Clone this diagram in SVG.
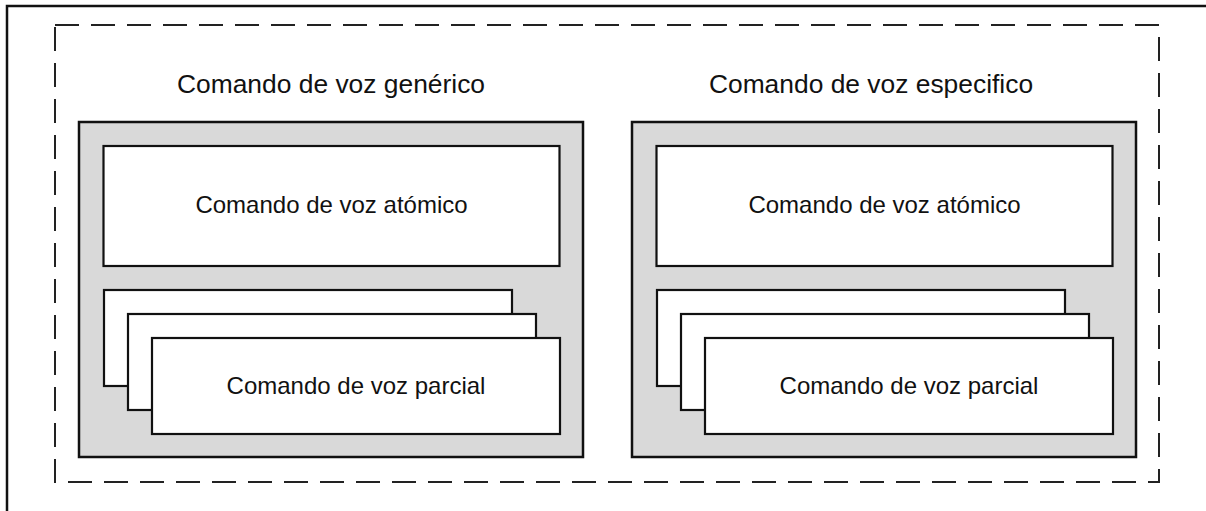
<svg xmlns="http://www.w3.org/2000/svg" width="1206" height="511" viewBox="0 0 1206 511">
<style>
.t{font-family:"Liberation Sans",Arial,sans-serif;fill:#111;text-anchor:middle}
.title{font-size:26.4px}
.lbl{font-size:24px}
.grp{fill:#d9d9d9;stroke:#111;stroke-width:2.5}
.box{fill:#fff;stroke:#111;stroke-width:2.2}
</style>
<rect width="1206" height="511" fill="#fff"/>
<rect x="7" y="6" width="1220" height="530" fill="none" stroke="#111" stroke-width="2.5"/>
<rect x="55" y="25" width="1104" height="457" fill="none" stroke="#222" stroke-width="2" stroke-dasharray="24 12"/>
<g id="generico">
<text class="t title" x="331" y="93">Comando de voz genérico</text>
<rect class="grp" x="79" y="122" width="504" height="335"/>
<g id="atomico1">
<rect class="box" x="103.5" y="146" width="456" height="120"/>
<text class="t lbl" x="331.5" y="212.5">Comando de voz atómico</text>
</g>
<g id="parcial1">
<rect class="box" x="104" y="290" width="408" height="96"/>
<rect class="box" x="128" y="314" width="408" height="96"/>
<rect class="box" x="152" y="338" width="408" height="96"/>
<text class="t lbl" x="356" y="394">Comando de voz parcial</text>
</g>
</g>
<g id="especifico">
<text class="t title" x="871" y="93">Comando de voz especifico</text>
<rect class="grp" x="632" y="122" width="504" height="335"/>
<g id="atomico2">
<rect class="box" x="656.5" y="146" width="456" height="120"/>
<text class="t lbl" x="884.5" y="212.5">Comando de voz atómico</text>
</g>
<g id="parcial2">
<rect class="box" x="657" y="290" width="408" height="96"/>
<rect class="box" x="681" y="314" width="408" height="96"/>
<rect class="box" x="705" y="338" width="408" height="96"/>
<text class="t lbl" x="909" y="394">Comando de voz parcial</text>
</g>
</g>
<g id="connectors"/>
</svg>
